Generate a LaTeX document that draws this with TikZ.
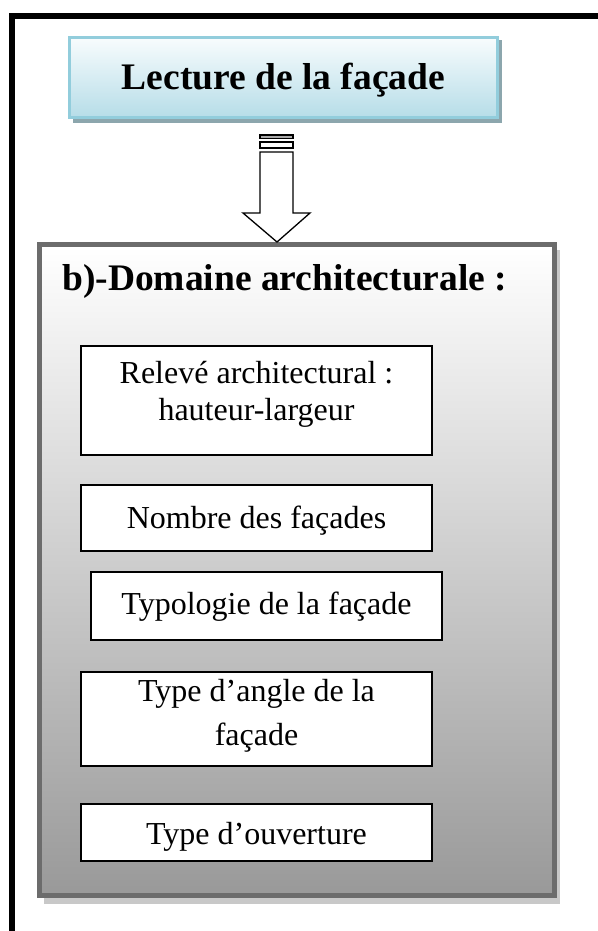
\documentclass[tikz,border=0pt]{standalone}
\usepackage{fontspec}
\setmainfont{Liberation Serif}
\definecolor{frameblk}{RGB}{0,0,0}
\definecolor{topborder}{RGB}{146,205,220}
\definecolor{toptop}{RGB}{248,252,253}
\definecolor{topbot}{RGB}{182,221,232}
\definecolor{topshadow}{RGB}{140,166,173}
\definecolor{bigborder}{RGB}{108,108,108}
\definecolor{bigshadow}{RGB}{200,200,200}
\definecolor{bigbot}{RGB}{153,153,153}
\definecolor{stripegray}{RGB}{170,170,170}
\tikzset{
  bodytext/.style={font=\fontsize{32}{38}\selectfont, inner sep=0pt, anchor=base},
  headtext/.style={font=\fontsize{37.5}{44}\selectfont\bfseries, inner sep=0pt, anchor=base},
  itembox/.style={draw=black, line width=2pt, fill=white, minimum width=351pt, inner sep=0pt},
}
\begin{document}
\begin{tikzpicture}[x=1pt,y=-1pt]
\useasboundingbox (0,0) rectangle (597,931);
% outer frame
\draw[frameblk, line width=6pt] (12,935) -- (12,16) -- (602,16);
% top box with shadow
\fill[topshadow] (72.5,40) rectangle (502,123);
\node[draw=topborder, line width=3pt, top color=toptop, bottom color=topbot,
      minimum width=428pt, minimum height=80pt, inner sep=0pt] (top) at (283.5,77.5) {};
\node[headtext] (toptext) at (283.5,90) {Lecture de la façade};
% big box with shadow
\fill[bigshadow] (43.5,249.5) rectangle (560,904);
\node[draw=bigborder, line width=5pt, top color=white, bottom color=bigbot,
      minimum width=515pt, minimum height=651pt, inner sep=0pt] (big) at (297,570) {};
\node[headtext, anchor=base west] (head) at (62,290) {b)-Domaine architecturale :};
% block arrow
\draw[line width=1.3pt, fill=stripegray] (260,135) rectangle (293,138.5);
\draw[line width=1.3pt, fill=white] (260,142) rectangle (293,148);
\draw[line width=1.3pt, fill=white, line join=miter]
  (260,152) -- (293,152) -- (293,213) -- (310,213) -- (big.north -| 277,0) -- (243,213) -- (260,213) -- cycle;
% items
\node[itembox, minimum height=109pt] (b1) at (256.5,400.5) {};
\node[bodytext] (b1a) at (256.5,383) {Relevé architectural :};
\node[bodytext] (b1b) at (256.5,420) {hauteur-largeur};
\node[itembox, minimum height=66pt] (b2) at (256.5,518) {};
\node[bodytext] (b2a) at (256.5,528) {Nombre des façades};
\node[itembox, minimum height=68pt] (b3) at (266.5,606) {};
\node[bodytext] (b3a) at (266.5,614) {Typologie de la façade};
\node[itembox, minimum height=94pt] (b4) at (256.5,719) {};
\node[bodytext] (b4a) at (256.5,701) {Type d’angle de la};
\node[bodytext] (b4b) at (256.5,745) {façade};
\node[itembox, minimum height=57pt] (b5) at (256.5,832.5) {};
\node[bodytext] (b5a) at (256.5,844) {Type d’ouverture};
\end{tikzpicture}
\end{document}
